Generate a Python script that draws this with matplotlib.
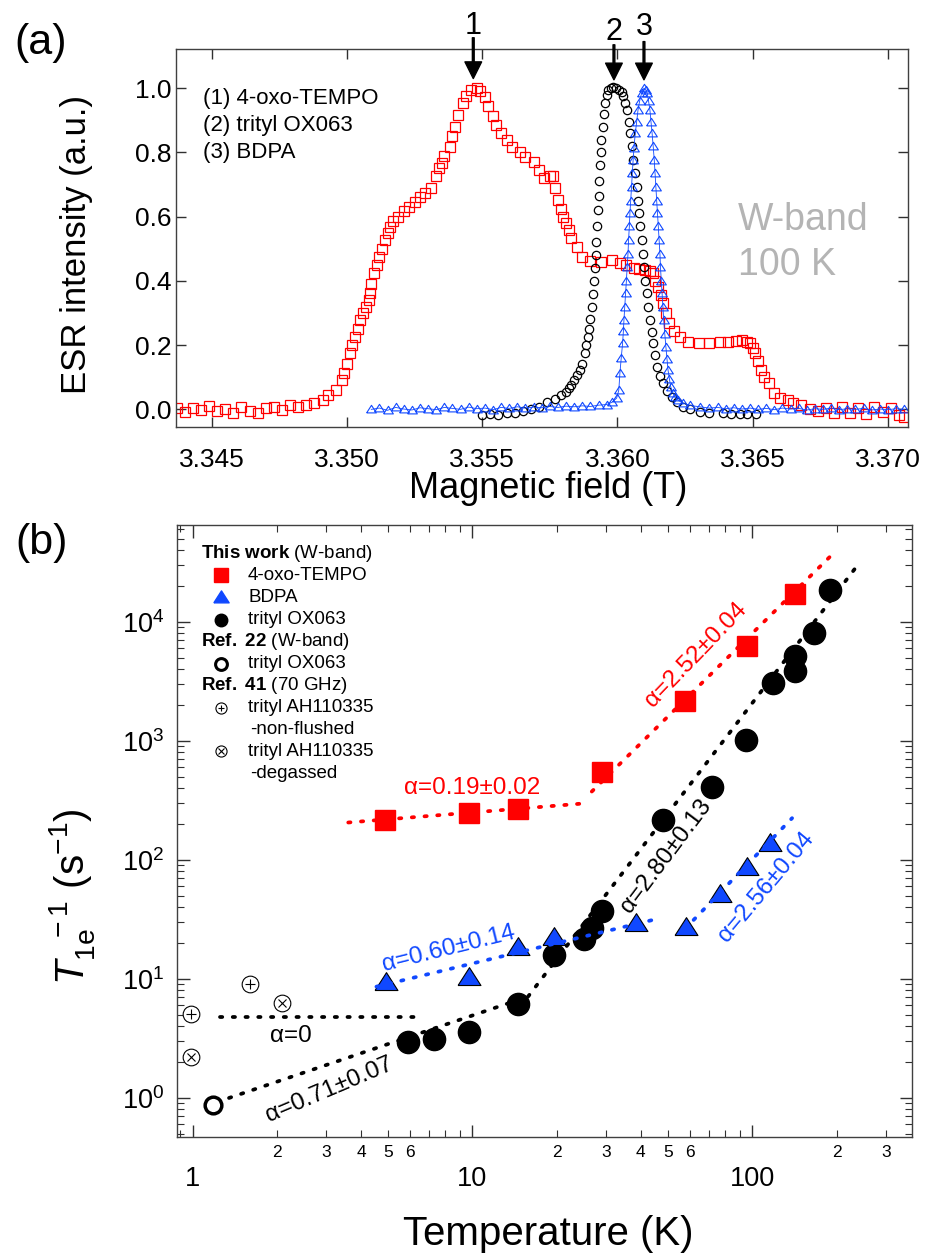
import numpy as np
import matplotlib
matplotlib.use('Agg')
import matplotlib.pyplot as plt
from matplotlib.ticker import LogLocator, FuncFormatter, MultipleLocator, NullFormatter

plt.rcParams['font.family'] = ['Liberation Sans', 'DejaVu Sans']
plt.rcParams['mathtext.fontset'] = 'custom'
plt.rcParams['mathtext.rm'] = 'Liberation Sans'
plt.rcParams['mathtext.it'] = 'Liberation Sans:italic'
plt.rcParams['mathtext.bf'] = 'Liberation Sans:bold'

# ---------------- panel (a): ESR spectra (field in T, normalised intensity)
tempo_spec = [
    (3.3437, 0.005), (3.3440, -0.008), (3.3443, 0.004), (3.3446, -0.002), (3.3449, 0.010),
    (3.3452, -0.006), (3.3455, 0.002), (3.3458, -0.010), (3.3461, 0.006), (3.3464, -0.004),
    (3.3467, -0.012), (3.3470, 0.003), (3.3473, 0.008), (3.3476, -0.003), (3.3479, 0.012),
    (3.3482, 0.006), (3.3485, 0.015), (3.3488, 0.020), (3.3491, 0.030), (3.3493, 0.045),
    (3.3496, 0.060), (3.3498, 0.090), (3.3499, 0.112), (3.3500, 0.140), (3.3501, 0.174),
    (3.3502, 0.200), (3.3503, 0.226), (3.3504, 0.250), (3.3505, 0.278), (3.3506, 0.300),
    (3.3507, 0.320), (3.3508, 0.340), (3.35085, 0.361), (3.3509, 0.390), (3.3510, 0.424),
    (3.3511, 0.450), (3.3512, 0.475), (3.3513, 0.500), (3.3514, 0.527), (3.3515, 0.550),
    (3.3516, 0.569), (3.3517, 0.585), (3.3519, 0.600), (3.3521, 0.617), (3.3523, 0.631),
    (3.3525, 0.645), (3.3527, 0.662), (3.3529, 0.675), (3.3531, 0.688), (3.3533, 0.725),
    (3.3534, 0.750), (3.3535, 0.766), (3.3536, 0.790), (3.3538, 0.818), (3.3539, 0.850),
    (3.3540, 0.880), (3.3541, 0.915), (3.3543, 0.953), (3.3544, 0.975), (3.3546, 0.995),
    (3.3548, 1.000), (3.3549, 0.990), (3.3551, 0.974), (3.3552, 0.945), (3.3554, 0.912),
    (3.3555, 0.885), (3.3557, 0.860), (3.3559, 0.840), (3.3561, 0.818), (3.3564, 0.800),
    (3.3566, 0.787), (3.3569, 0.770), (3.3571, 0.746), (3.3573, 0.720), (3.3575, 0.725),
    (3.3576, 0.725), (3.3577, 0.690), (3.3578, 0.652), (3.3579, 0.625), (3.3580, 0.600),
    (3.3581, 0.580), (3.3582, 0.559), (3.3583, 0.535), (3.3585, 0.507), (3.3587, 0.475),
    (3.3590, 0.462), (3.3594, 0.460), (3.3598, 0.465), (3.3601, 0.455), (3.3603, 0.450),
    (3.3606, 0.439), (3.3608, 0.437), (3.3610, 0.434), (3.3612, 0.430), (3.3613, 0.424),
    (3.3614, 0.400), (3.3615, 0.382), (3.3616, 0.355), (3.3617, 0.330), (3.3618, 0.300),
    (3.3619, 0.268), (3.3621, 0.245), (3.3623, 0.226), (3.3626, 0.210), (3.3630, 0.206),
    (3.3634, 0.206), (3.3638, 0.210), (3.3641, 0.210), (3.3644, 0.214), (3.3646, 0.216),
    (3.3648, 0.210), (3.3649, 0.206), (3.3650, 0.190), (3.3651, 0.174), (3.3652, 0.150),
    (3.3653, 0.122), (3.3654, 0.100), (3.3656, 0.081), (3.3658, 0.050), (3.3660, 0.035),
    (3.3663, 0.029), (3.3665, 0.020), (3.3668, 0.013), (3.3671, 0.000), (3.3674, -0.005),
    (3.3677, 0.005), (3.3680, -0.010), (3.3683, 0.008), (3.3686, -0.012), (3.3689, 0.004),
    (3.3692, -0.015), (3.3695, 0.006), (3.3698, -0.008), (3.3701, 0.003), (3.3704, -0.018),
    (3.3706, -0.025),
]

ox063_spec = [
    (3.3550, -0.018), (3.3553, -0.014), (3.3556, -0.017), (3.3559, -0.012), (3.3562, -0.010),
    (3.3565, -0.006), (3.3568, 0.000), (3.3571, 0.008), (3.3574, 0.024), (3.3577, 0.033),
    (3.3579, 0.045), (3.3581, 0.055), (3.3582, 0.066), (3.3583, 0.076), (3.3584, 0.090),
    (3.3585, 0.106), (3.3586, 0.122), (3.3587, 0.140), (3.3588, 0.174), (3.35885, 0.200),
    (3.3589, 0.226), (3.35895, 0.250), (3.3590, 0.280), (3.35905, 0.320), (3.3591, 0.360),
    (3.35913, 0.400), (3.35916, 0.440), (3.35919, 0.480), (3.35922, 0.520), (3.35925, 0.570),
    (3.35928, 0.620), (3.35930, 0.665), (3.35932, 0.710), (3.35935, 0.760), (3.35938, 0.800),
    (3.35941, 0.840), (3.35945, 0.880), (3.35949, 0.920), (3.35953, 0.953), (3.35960, 0.980),
    (3.35966, 0.995), (3.35975, 1.000), (3.35985, 1.003), (3.35995, 1.000), (3.36005, 0.995),
    (3.36015, 0.988), (3.36021, 0.975), (3.36028, 0.955), (3.36036, 0.932), (3.36041, 0.895),
    (3.36046, 0.860), (3.36052, 0.820), (3.36058, 0.777), (3.36064, 0.735), (3.36071, 0.693),
    (3.36076, 0.650), (3.36080, 0.610), (3.36085, 0.570), (3.36089, 0.527), (3.36094, 0.485),
    (3.36098, 0.444), (3.36103, 0.400), (3.36108, 0.361), (3.36114, 0.320), (3.36120, 0.278),
    (3.36126, 0.240), (3.36132, 0.206), (3.36139, 0.170), (3.36147, 0.133), (3.36157, 0.105),
    (3.36169, 0.081), (3.36184, 0.058), (3.36200, 0.039), (3.36220, 0.022), (3.36243, 0.008),
    (3.36270, 0.000), (3.36304, -0.007), (3.36340, -0.010), (3.36391, -0.012), (3.36420, -0.014),
    (3.36452, -0.015), (3.36480, -0.016), (3.36511, -0.015),
]

bdpa_spec = [
    (3.3509, 0.000), (3.3512, 0.004), (3.3515, -0.003), (3.3518, 0.006), (3.3521, 0.001),
    (3.3524, -0.002), (3.3527, 0.005), (3.3530, 0.002), (3.3533, -0.001), (3.3536, 0.006),
    (3.3539, 0.003), (3.3542, 0.000), (3.3545, 0.007), (3.3548, 0.002), (3.3551, 0.004),
    (3.3554, -0.001), (3.3557, 0.006), (3.3560, 0.003), (3.3563, 0.008), (3.3566, 0.004),
    (3.3569, 0.007), (3.3572, 0.005), (3.3575, 0.009), (3.3578, 0.006), (3.3581, 0.010),
    (3.3584, 0.008), (3.3587, 0.011), (3.3590, 0.009), (3.3593, 0.013), (3.3596, 0.015),
    (3.3598, 0.022), (3.35997, 0.035), (3.36005, 0.060), (3.36009, 0.112), (3.36014, 0.160),
    (3.36019, 0.206), (3.36022, 0.245), (3.36024, 0.278), (3.36027, 0.320), (3.36030, 0.361),
    (3.36033, 0.400), (3.36036, 0.444), (3.36039, 0.485), (3.36041, 0.527), (3.36044, 0.570),
    (3.36046, 0.610), (3.36049, 0.650), (3.36052, 0.693), (3.36055, 0.735), (3.36058, 0.777),
    (3.36061, 0.815), (3.36066, 0.860), (3.36071, 0.895), (3.36076, 0.932), (3.36082, 0.960),
    (3.36089, 0.984), (3.36098, 1.000), (3.36104, 0.995), (3.36110, 0.984), (3.36115, 0.960),
    (3.36120, 0.932), (3.36124, 0.895), (3.36128, 0.860), (3.36132, 0.820), (3.36136, 0.777),
    (3.36139, 0.735), (3.36142, 0.693), (3.36145, 0.650), (3.36148, 0.610), (3.36151, 0.570),
    (3.36154, 0.527), (3.36157, 0.485), (3.36159, 0.444), (3.36162, 0.400), (3.36165, 0.361),
    (3.36168, 0.320), (3.36171, 0.278), (3.36175, 0.235), (3.36179, 0.195), (3.36183, 0.158),
    (3.36187, 0.122), (3.36192, 0.095), (3.36197, 0.070), (3.36204, 0.052), (3.36212, 0.039),
    (3.36225, 0.028), (3.36243, 0.019), (3.36270, 0.012), (3.36304, 0.008), (3.3634, 0.004),
    (3.3637, 0.006), (3.3640, 0.002), (3.3643, 0.005), (3.3646, 0.001), (3.3649, 0.004),
    (3.3652, 0.000), (3.3655, 0.003), (3.3658, -0.001), (3.3661, 0.004), (3.3664, 0.001),
    (3.3667, 0.003), (3.3670, -0.002), (3.3673, 0.002), (3.3676, 0.000), (3.3679, 0.004),
    (3.3682, -0.001), (3.3685, 0.002), (3.3688, 0.000), (3.3691, 0.003), (3.3694, -0.002),
    (3.3697, 0.001), (3.3700, -0.001), (3.3703, 0.002), (3.3706, 0.000),
]

peak_labels = ['1', '2', '3']
peak_fields = [3.35467, 3.35987, 3.36098]

# ---------------- panel (b): relaxation rates vs temperature
oxo_T = [4.89, 9.74, 14.5, 29.0, 57.6, 95.7, 142.5]
oxo_R = [217, 247, 267, 542, 2168, 6285, 17190]

bdpa_T = [4.9, 9.74, 14.6, 19.5, 38.5, 57.9, 76.4, 95.7, 115.4]
bdpa_R = [9.5, 10.3, 18.5, 22.7, 29.4, 27.5, 51.5, 87.9, 139.7]

trityl_T = [5.87, 7.3, 9.74, 14.6, 19.5, 25.1, 26.7, 29.0, 47.9, 71.8, 95.2, 119, 142.5, 142.5, 166.7, 190]
trityl_R = [2.97, 3.11, 3.61, 6.17, 15.9, 21.7, 26.7, 37.3, 217, 413, 1019, 3054, 5110, 3896, 8040, 18580]

ref22_T = [1.18]
ref22_R = [0.87]
ref41_nf_T = [0.99, 1.6]
ref41_nf_R = [5.05, 9.08]
ref41_dg_T = [0.99, 2.08]
ref41_dg_R = [2.2, 6.25]

# power-law fits, end points (T, R)
fit_oxo_low = ([3.6, 24.2], [206, 296])
fit_oxo_high = ([26.7, 198], [375, 38990])
fit_zero = ([1.25, 6.28], [4.77, 4.77])
fit_trityl_low = ([1.35, 15.8], [1.0, 7.1])
fit_trityl_high = ([15.8, 237], [7.1, 29570])
fit_bdpa_low = ([4.54, 46.9], [8.61, 32.4])
fit_bdpa_high = ([61.7, 138.7], [31.3, 224])

RED = '#ff0000'
BLUE = '#1048ff'
# slightly flattened triangle, as in the figure
tri = [(-1, -0.7), (1, -0.7), (0, 0.86), (-1, -0.7)]

fig = plt.figure(figsize=(9.27, 12.53), dpi=100)

# ======================= (a)
ax1 = fig.add_axes([0.18986, 0.65946, 0.78932, 0.30144])
fx, fy = zip(*tempo_spec)
ax1.plot(fx, fy, ls='none', marker='s', ms=6.5, mfc='none', mec=RED, mew=0.9)
fx, fy = zip(*ox063_spec)
ax1.plot(fx, fy, ls='none', marker='o', ms=6, mfc='none', mec='black', mew=0.9)
fx, fy = zip(*bdpa_spec)
ax1.plot(fx, fy, ls='-', lw=0.6, color=BLUE, marker=tri, ms=7, mfc='none', mec=BLUE, mew=0.8)

ax1.set_xlim(3.34368, 3.37073)
ax1.set_ylim(-0.054, 1.122)
ax1.xaxis.set_major_locator(MultipleLocator(0.005))
ax1.yaxis.set_major_locator(MultipleLocator(0.2))
ax1.xaxis.set_major_formatter(FuncFormatter(lambda v, p: '%.3f' % v))
ax1.yaxis.set_major_formatter(FuncFormatter(lambda v, p: '%.1f' % v))
ax1.tick_params(direction='in', top=True, right=True, length=7, width=1,
                labelsize=19, color='#303030')
ax1.tick_params(axis='x', pad=15)
ax1.tick_params(axis='y', pad=3)
for s in ax1.spines.values():
    s.set_color('#404040')
    s.set_linewidth(1.0)

tip_y = [1.030, 1.026, 1.026]
top_y = [1.157, 1.135, 1.145]
num_y = [1.194, 1.174, 1.191]
for lab, fx0, ty, sy, ny in zip(peak_labels, peak_fields, tip_y, top_y, num_y):
    ax1.annotate('', xy=(fx0, ty), xytext=(fx0, sy), annotation_clip=False,
                 arrowprops=dict(facecolor='black', edgecolor='black', width=1.3,
                                 headwidth=12, headlength=12, shrink=0))
    ax1.text(fx0, ny, lab, fontsize=22, ha='center', va='center', clip_on=False)

ax1.text(0.037, 0.8695, '(1) 4-oxo-TEMPO', transform=ax1.transAxes, fontsize=16, va='center')
ax1.text(0.037, 0.797, '(2) trityl OX063', transform=ax1.transAxes, fontsize=16, va='center')
ax1.text(0.037, 0.7265, '(3) BDPA', transform=ax1.transAxes, fontsize=16, va='center')
ax1.text(0.768, 0.5473, 'W-band', transform=ax1.transAxes, fontsize=27, va='center', color='#b4b4b4')
ax1.text(0.768, 0.428, '100 K', transform=ax1.transAxes, fontsize=27, va='center', color='#b4b4b4')

fig.text(548 / 927, 1 - 488 / 1253, 'Magnetic field (T)', fontsize=26, ha='center', va='center')
fig.text(77 / 927, 1 - 245 / 1253, 'ESR intensity (a.u.)', fontsize=25, ha='center', va='center',
         rotation=90)
fig.text(41 / 927, 1 - 43 / 1253, '(a)', fontsize=31, ha='center', va='center')

# ======================= (b)
ax2 = fig.add_axes([0.19094, 0.09258, 0.79288, 0.48843])
ax2.set_xscale('log')
ax2.set_yscale('log')

dots = dict(ls=(0, (0.6, 2.8)), lw=2.7, dash_capstyle='round', zorder=4)
ax2.plot(*fit_oxo_low, color=RED, **dots)
ax2.plot(*fit_oxo_high, color=RED, **dots)
ax2.plot(*fit_zero, color='black', **dots)
ax2.plot(*fit_trityl_low, color='black', **dots)
ax2.plot(*fit_trityl_high, color='black', **dots)
ax2.plot(*fit_bdpa_low, color=BLUE, **dots)
ax2.plot(*fit_bdpa_high, color=BLUE, **dots)

ax2.plot(oxo_T, oxo_R, ls='none', marker='s', ms=14.5, mfc=RED, mec=RED, zorder=3)
ax2.plot(trityl_T, trityl_R, ls='none', marker='o', ms=16, mfc='black', mec='black', zorder=3)
ax2.plot(bdpa_T, bdpa_R, ls='none', marker=tri, ms=16.5, mfc=BLUE, mec='black', mew=0.8, zorder=3)
ax2.plot(ref22_T, ref22_R, ls='none', marker='o', ms=12, mfc='none', mec='black', mew=2.5, zorder=3)
ax2.plot(ref41_nf_T, ref41_nf_R, ls='none', marker='o', ms=12, mfc='white', mec='black', mew=0.8, zorder=3)
ax2.plot(ref41_nf_T, ref41_nf_R, ls='none', marker='+', ms=7, mec='black', mew=0.8, zorder=3)
ax2.plot(ref41_dg_T, ref41_dg_R, ls='none', marker='o', ms=12, mfc='white', mec='black', mew=0.8, zorder=3)
ax2.plot(ref41_dg_T, ref41_dg_R, ls='none', marker='x', ms=6, mec='black', mew=0.8, zorder=3)

ax2.set_xlim(0.88, 372)
ax2.set_ylim(0.47, 6.5e4)

ax2.xaxis.set_major_locator(LogLocator(base=10))
ax2.xaxis.set_minor_locator(LogLocator(base=10, subs=range(2, 10)))
ax2.yaxis.set_major_locator(LogLocator(base=10))
ax2.yaxis.set_minor_locator(LogLocator(base=10, subs=range(2, 10)))


def minor_fmt(v, pos):
    m = int(round(v / 10 ** np.floor(np.log10(v) + 1e-9)))
    return str(m) if m in (2, 3, 4, 5, 6) else ''


ax2.xaxis.set_major_formatter(FuncFormatter(lambda v, p: '%g' % v))
ax2.xaxis.set_minor_formatter(FuncFormatter(minor_fmt))
ax2.yaxis.set_major_formatter(FuncFormatter(lambda v, p: r'$10^{%d}$' % round(np.log10(v))))
ax2.yaxis.set_minor_formatter(NullFormatter())
ax2.tick_params(which='both', direction='in', top=True, right=True, color='#303030')
ax2.tick_params(which='major', length=9, width=1, labelsize=19.5)
ax2.tick_params(which='minor', length=5, width=0.8, labelsize=12.5)
ax2.tick_params(axis='x', which='major', pad=21)
ax2.tick_params(axis='x', which='minor', pad=6)
ax2.tick_params(axis='y', which='major', pad=9)
for s in ax2.spines.values():
    s.set_color('#404040')
    s.set_linewidth(1.0)

# fit annotations
ax2.text(10.0, 403, 'α=0.19±0.02', color=RED, fontsize=17.5, ha='center', va='center')
ax2.text(62.9, 5280, 'α=2.52±0.04', color=RED, fontsize=17.5, ha='center', va='center',
         rotation=46, rotation_mode='anchor')
ax2.text(49.2, 106.6, 'α=2.80±0.13', color='black', fontsize=17.5, ha='center', va='center',
         rotation=53, rotation_mode='anchor')
ax2.text(112, 59.7, 'α=2.56±0.04', color=BLUE, fontsize=17.5, ha='center', va='center',
         rotation=50, rotation_mode='anchor')
ax2.text(8.24, 17.8, 'α=0.60±0.14', color=BLUE, fontsize=17.5, ha='center', va='center',
         rotation=14, rotation_mode='anchor')
ax2.text(2.24, 3.32, 'α=0', color='black', fontsize=17.5, ha='center', va='center')
ax2.text(3.07, 1.18, 'α=0.71±0.07', color='black', fontsize=17.5, ha='center', va='center',
         rotation=23, rotation_mode='anchor')

# legend block
tx, mx, ix = 0.0327, 0.0599, 0.0966
rows = [0.954, 0.918, 0.882, 0.845, 0.809, 0.773, 0.737, 0.701, 0.6655, 0.630, 0.594]
lfs = 13.5
ax2.text(tx, rows[0], r'$\bf{This\ work}$ (W-band)', transform=ax2.transAxes, fontsize=lfs, va='center')
ax2.text(ix, rows[1], '4-oxo-TEMPO', transform=ax2.transAxes, fontsize=lfs, va='center')
ax2.text(ix, rows[2], 'BDPA', transform=ax2.transAxes, fontsize=lfs, va='center')
ax2.text(ix, rows[3], 'trityl OX063', transform=ax2.transAxes, fontsize=lfs, va='center')
ax2.text(tx, rows[4], r'$\bf{Ref.\ 22}$ (W-band)', transform=ax2.transAxes, fontsize=lfs, va='center')
ax2.text(ix, rows[5], 'trityl OX063', transform=ax2.transAxes, fontsize=lfs, va='center')
ax2.text(tx, rows[6], r'$\bf{Ref.\ 41}$ (70 GHz)', transform=ax2.transAxes, fontsize=lfs, va='center')
ax2.text(ix, rows[7], 'trityl AH110335', transform=ax2.transAxes, fontsize=lfs, va='center')
ax2.text(ix + 0.003, rows[8], '-non-flushed', transform=ax2.transAxes, fontsize=lfs, va='center')
ax2.text(ix, rows[9], 'trityl AH110335', transform=ax2.transAxes, fontsize=lfs, va='center')
ax2.text(ix + 0.003, rows[10], '-degassed', transform=ax2.transAxes, fontsize=lfs, va='center')

lt = ax2.transAxes
ax2.plot([mx], [rows[1]], transform=lt, marker='s', ms=9.5, color=RED, ls='none')
ax2.plot([mx], [rows[2]], transform=lt, marker=tri, ms=11, color=BLUE, ls='none')
ax2.plot([mx], [rows[3]], transform=lt, marker='o', ms=9, color='black', ls='none')
ax2.plot([mx], [rows[5]], transform=lt, marker='o', ms=8.5, mfc='none', mec='black', mew=2.2, ls='none')
ax2.plot([mx], [rows[7]], transform=lt, marker='o', ms=8, mfc='none', mec='black', mew=0.8, ls='none')
ax2.plot([mx], [rows[7]], transform=lt, marker='+', ms=5, mec='black', mew=0.8, ls='none')
ax2.plot([mx], [rows[9]], transform=lt, marker='o', ms=8, mfc='none', mec='black', mew=0.8, ls='none')
ax2.plot([mx], [rows[9]], transform=lt, marker='x', ms=4.5, mec='black', mew=0.8, ls='none')

fig.text(548 / 927, 1 - 1234 / 1253, 'Temperature (K)', fontsize=29, ha='center', va='center')
fig.text(72 / 927, 1 - 897 / 1253, r'$T_{\mathrm{1e}}^{\ \ -1}$ (s$^{-1}$)', fontsize=29,
         ha='center', va='center', rotation=90)
fig.text(42 / 927, 1 - 543 / 1253, '(b)', fontsize=31, ha='center', va='center')

fig.savefig('out.png', dpi=100)
